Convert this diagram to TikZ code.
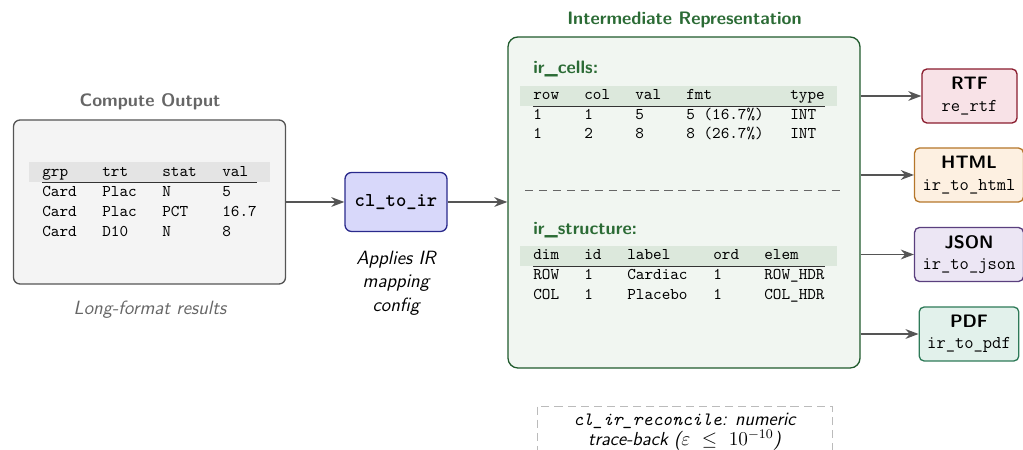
\documentclass[tikz,border=0pt]{standalone}
\usetikzlibrary{arrows.meta}
\definecolor{cofill}{HTML}{F4F4F4}
\definecolor{codraw}{HTML}{555555}
\definecolor{cohead}{HTML}{E4E4E4}
\definecolor{titlegray}{HTML}{666666}
\definecolor{clfill}{HTML}{D8D8FA}
\definecolor{cldraw}{HTML}{2A2A8C}
\definecolor{irfill}{HTML}{F1F6F1}
\definecolor{irdraw}{HTML}{1F5A2C}
\definecolor{irhead}{HTML}{DCE8DC}
\definecolor{irgreen}{HTML}{2B6B35}
\definecolor{rtffill}{HTML}{F8E2E7}
\definecolor{rtfdraw}{HTML}{8A1C2E}
\definecolor{htmlfill}{HTML}{FDF0E1}
\definecolor{htmldraw}{HTML}{B5762A}
\definecolor{jsonfill}{HTML}{ECE6F4}
\definecolor{jsondraw}{HTML}{5A3F7E}
\definecolor{pdffill}{HTML}{E2F1EB}
\definecolor{pdfdraw}{HTML}{2E7A58}
\definecolor{arrgray}{HTML}{555555}
\definecolor{dashgray}{HTML}{BBBBBB}
\def\u{0.61pt}
\tikzset{
  cell/.style={anchor=base west, inner sep=0pt, font=\fontsize{10}{12}\selectfont\ttfamily},
  arr/.style={draw=arrgray, line width=0.85pt, -{Stealth[length=8pt,width=6pt]}},
  outbox/.style={draw=#1draw, fill=#1fill, rounded corners=3pt, line width=0.8pt, align=center,
     minimum height=54*\u, minimum width=95*\u, inner xsep=8*\u, inner ysep=2pt},
  title/.style={anchor=base, inner sep=0pt, font=\fontsize{11}{13}\selectfont\sffamily\bfseries},
  note/.style={inner sep=0pt, font=\fontsize{11.7}{14.2}\selectfont\sffamily\itshape},
}
\begin{document}
\begin{tikzpicture}[x=0.61pt,y=-0.61pt]
\useasboundingbox (0,0) rectangle (1023,450);
% Compute output
\node[draw=codraw, fill=cofill, rounded corners=4pt, line width=0.8pt,
  minimum width=272*\u, minimum height=164*\u] (co) at (149.5,202) {};
\node[title, text=titlegray] (cotitle) at (150,106.5) {Compute Output};
\fill[cohead] (29,162) rectangle (270,182);
\coordinate (cor1) at (42,182.5);
\coordinate (cor2) at (257,182.5);
\draw[line width=0.8pt, black!80] (cor1) -- (cor2);
\foreach \t [count=\j] in {grp,trt,stat,val}
  \node[cell, name=coh\j] at ({42+60*(\j-1)},176.7) {\t};
\foreach \a/\b/\c/\d [count=\i] in {Card/Plac/N/5, Card/Plac/PCT/16.7, Card/D10/N/8}{
  \node[cell, name=co\i a] at (42,{177+19.8*\i}) {\a};
  \node[cell, name=co\i b] at (102,{177+19.8*\i}) {\b};
  \node[cell, name=co\i c] at (162,{177+19.8*\i}) {\c};
  \node[cell, name=co\i d] at (222,{177+19.8*\i}) {\d};
}
\node[note, anchor=base, text=titlegray] (conote) at (150,315) {Long-format results};
% cl_to_ir
\node[draw=cldraw, fill=clfill, rounded corners=4pt, line width=0.8pt,
  minimum width=102*\u, minimum height=59*\u,
  font=\fontsize{12}{14}\selectfont\ttfamily\bfseries] (cl) at (396,202) {cl\_to\_ir};
\node[note, anchor=north, align=center] (clnote) at (396,251) {Applies IR\\mapping\\config};
% IR
\node[draw=irdraw, fill=irfill, rounded corners=6pt, line width=0.8pt,
  minimum width=352*\u, minimum height=331*\u] (ir) at (684,202.5) {};
\node[title, text=irgreen] (irtitle) at (684.5,25) {Intermediate Representation};
\node[title, anchor=base west, text=irgreen] (cellslbl) at (533,74) {ir\_cells:};
\fill[irhead] (520,86) rectangle (837,106);
\coordinate (ir1) at (533,106.5);
\coordinate (ir2) at (825,106.5);
\draw[line width=0.8pt, black!80] (ir1) -- (ir2);
\foreach \x/\t [count=\j] in {533/row,584/col,635/val,686/fmt,790/type}
  \node[cell, name=irh\j] at (\x,100) {\t};
\foreach \x/\t [count=\j] in {533/1,584/1,635/5,686/{5 (16.7\%)},790/INT}
  \node[cell, name=ira\j] at (\x,119.5) {\t};
\foreach \x/\t [count=\j] in {533/1,584/2,635/8,686/{8 (26.7\%)},790/INT}
  \node[cell, name=irb\j] at (\x,139) {\t};
\coordinate (dl1) at (525,190.5);
\coordinate (dl2) at (843,190.5);
\draw[titlegray, dashed, dash pattern=on 5pt off 3.5pt, line width=0.6pt] (dl1) -- (dl2);
\node[title, anchor=base west, text=irgreen] (structlbl) at (533,235) {ir\_structure:};
\fill[irhead] (520,246) rectangle (837,266);
\coordinate (is1) at (533,266.5);
\coordinate (is2) at (825,266.5);
\draw[line width=0.8pt, black!80] (is1) -- (is2);
\foreach \x/\t [count=\j] in {533/dim,584/id,627/label,713/ord,764/elem}
  \node[cell, name=ish\j] at (\x,260) {\t};
\foreach \x/\t [count=\j] in {533/ROW,584/1,627/Cardiac,713/1,764/ROW\_HDR}
  \node[cell, name=isa\j] at (\x,280) {\t};
\foreach \x/\t [count=\j] in {533/COL,584/1,627/Placebo,713/1,764/COL\_HDR}
  \node[cell, name=isb\j] at (\x,299.5) {\t};
% outputs
\node[outbox=rtf] (rtf) at (969.5,96) {{\fontsize{11}{13}\selectfont\sffamily\bfseries RTF}\\[1pt]{\fontsize{11}{13}\selectfont\ttfamily re\_rtf}};
\node[outbox=html] (html) at (969,175) {{\fontsize{11}{13}\selectfont\sffamily\bfseries HTML}\\[1pt]{\fontsize{11}{13}\selectfont\ttfamily ir\_to\_html}};
\node[outbox=json] (json) at (969,254.5) {{\fontsize{11}{13}\selectfont\sffamily\bfseries JSON}\\[1pt]{\fontsize{11}{13}\selectfont\ttfamily ir\_to\_json}};
\node[outbox=pdf] (pdf) at (969,334) {{\fontsize{11}{13}\selectfont\sffamily\bfseries PDF}\\[1pt]{\fontsize{11}{13}\selectfont\ttfamily ir\_to\_pdf}};
% connectors
\draw[arr] (co.east) -- (cl.west);
\draw[arr] (cl.east) -- (cl.east -| ir.west);
\draw[arr] (ir.east |- rtf.west) -- (rtf.west);
\draw[arr] (ir.east |- html.west) -- (html.west);
\draw[arr] (ir.east |- json.west) -- (json.west);
\draw[arr] (ir.east |- pdf.west) -- (pdf.west);
% reconcile
\node[draw=dashgray, dashed, dash pattern=on 5pt off 3pt, line width=0.6pt, align=center,
  minimum width=295*\u, minimum height=52*\u, inner sep=2pt,
  font=\fontsize{11.5}{12.4}\selectfont\sffamily\itshape] (recon) at (684.5,432)
  {{\ttfamily\itshape cl\_ir\_reconcile}: numeric\\trace-back ($\varepsilon\ \leq\ 10^{-10}$)};
\end{tikzpicture}
\end{document}
